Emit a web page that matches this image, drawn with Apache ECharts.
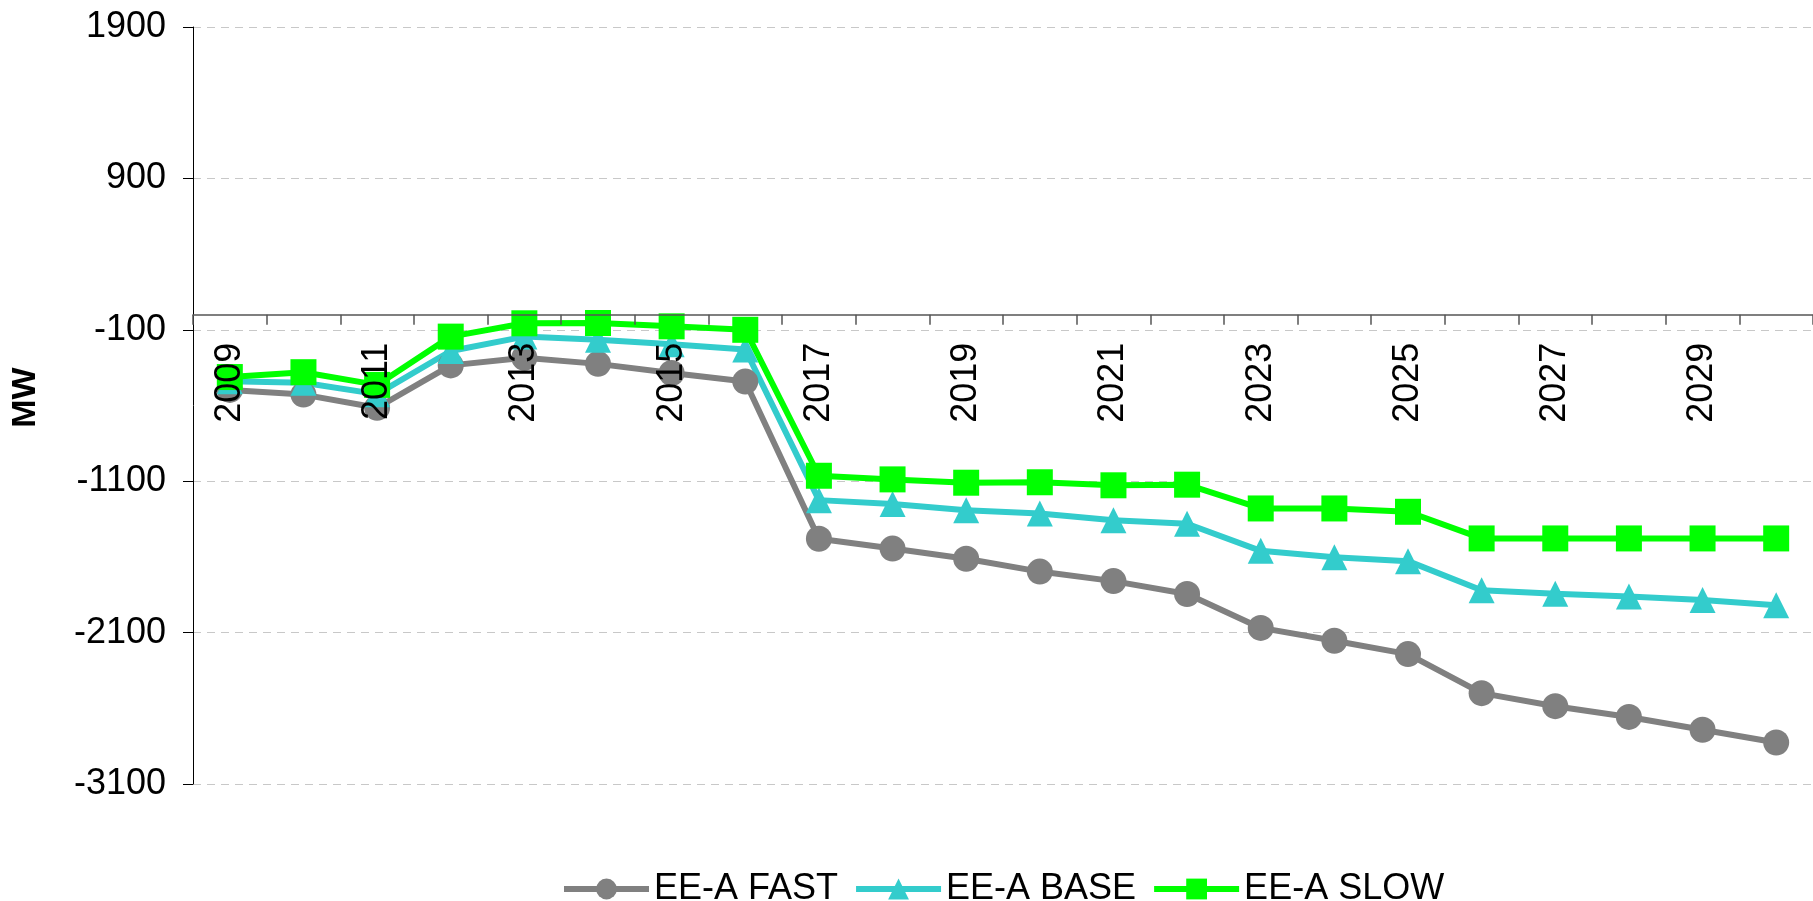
<!DOCTYPE html>
<html>
<head>
<meta charset="utf-8">
<script src="https://cdn.jsdelivr.net/npm/echarts@6/dist/echarts.min.js"></script>
<style>
  html, body { margin: 0; padding: 0; background: #fff; }
  #chart { width: 1813px; height: 901px; }
</style>
</head>
<body>
<div id="chart"></div>
<script>
var years = ['2009','2010','2011','2012','2013','2014','2015','2016','2017','2018','2019',
             '2020','2021','2022','2023','2024','2025','2026','2027','2028','2029','2030'];
var fast = [-497, -528, -615, -335, -285, -325, -385, -442, -1480, -1545, -1612,
            -1697, -1760, -1845, -2069, -2154, -2242, -2500, -2586, -2657, -2742, -2826];
var base = [-440, -450, -525, -240, -145, -165, -195, -230, -1225, -1250, -1292,
            -1314, -1358, -1381, -1560, -1602, -1628, -1820, -1843, -1862, -1885, -1920];
var slow = [-412, -380, -464, -145, -57, -55, -77, -100, -1064, -1088, -1110,
            -1107, -1127, -1123, -1280, -1280, -1302, -1478, -1478, -1478, -1478, -1478];

var font = "'Liberation Sans', Arial, sans-serif";
var myChart = echarts.init(document.getElementById('chart'));

// plot area: y axis -3100..1900 over 757px, x axis has to sit on the zero line
var gridTop = 27, gridBottom = 117, yMin = -3100, yMax = 1900;
var plotH = 901 - gridTop - gridBottom;
var zeroOffset = -plotH * (0 - yMin) / (yMax - yMin);

function line(name, data, color, symbol) {
    return {
        name: name,
        type: 'line',
        data: data,
        symbol: symbol,
        symbolSize: 26,
        lineStyle: { color: color, width: 6 },
        itemStyle: { color: color },
        emphasis: { disabled: true }
    };
}

var option = {
    animation: false,
    grid: { left: 193, right: 0, top: gridTop, bottom: gridBottom, containLabel: false },
    legend: {
        data: ['EE-A FAST', 'EE-A BASE', 'EE-A SLOW'],
        left: 556,
        top: 866,
        itemWidth: 85,
        itemHeight: 26,
        itemGap: 15,
        lineStyle: { width: 6 },
        textStyle: { color: '#000', fontSize: 36, fontFamily: font }
    },
    xAxis: {
        type: 'category',
        data: years,
        boundaryGap: true,
        position: 'bottom',
        offset: zeroOffset,
        z: 10,
        axisLine: { onZero: false, lineStyle: { color: '#555', width: 1.5 } },
        axisTick: { show: true, interval: 0, length: 10, lineStyle: { color: '#555', width: 1.5 } },
        axisLabel: {
            interval: 1,
            rotate: 90,
            margin: 28,
            color: '#000',
            fontSize: 36,
            fontFamily: font
        },
        splitLine: { show: false }
    },
    yAxis: {
        type: 'value',
        min: yMin,
        max: yMax,
        interval: 1000,
        name: 'MW',
        nameLocation: 'middle',
        nameRotate: 90,
        nameGap: 150,
        nameTextStyle: { color: '#000', fontSize: 34, fontWeight: 'bold', fontFamily: font, padding: [0, 0, 0, 16] },
        axisLine: { show: true, onZero: false, lineStyle: { color: '#000', width: 1 } },
        axisTick: { show: true, length: 10, lineStyle: { color: '#000' } },
        axisLabel: {
            margin: 27, color: '#000', fontSize: 36, fontFamily: font,
            formatter: function (v) { return String(v); }
        },
        splitLine: { show: true, lineStyle: { color: '#c8c8c8', type: [8, 6], width: 1 } }
    },
    series: [
        line('EE-A FAST', fast, '#808080', 'circle'),
        line('EE-A BASE', base, '#33cccc', 'triangle'),
        line('EE-A SLOW', slow, '#00ff00', 'rect')
    ]
};
myChart.setOption(option);
</script>
</body>
</html>
